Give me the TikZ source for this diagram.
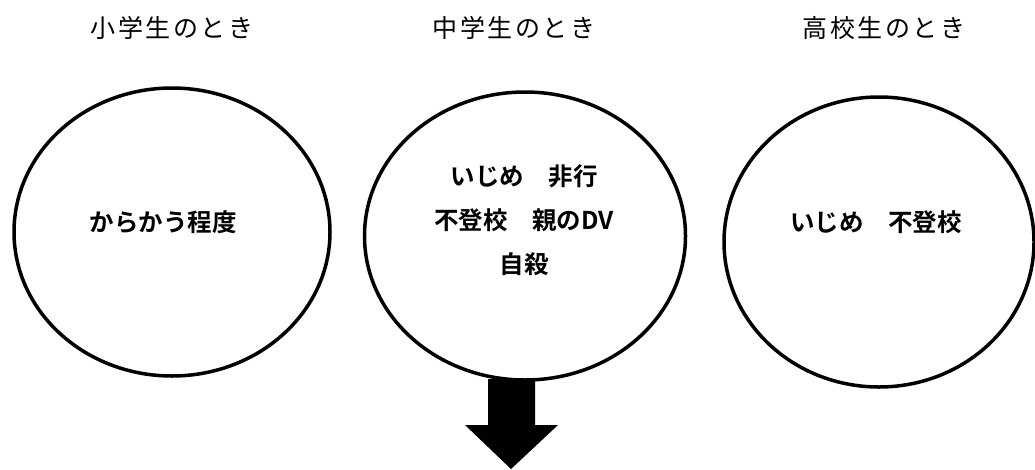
\documentclass[tikz,border=0pt]{standalone}
\usepackage{fontspec}
\usetikzlibrary{shapes.geometric}
\newfontfamily\jpreg{Noto Sans CJK JP}
\newfontfamily\jpbold{Noto Sans CJK JP Bold}
\tikzset{
  stage/.style={draw, ellipse, line width=3.5pt, inner sep=0pt},
  stagetitle/.style={font=\jpreg\fontsize{25}{30}\selectfont\addfontfeature{LetterSpace=10}, inner sep=0pt},
  body/.style={font=\jpbold\fontsize{24.5}{44}\selectfont, align=center, inner sep=0pt},
  blockarrow/.style={fill=black}
}
\begin{document}
\begin{tikzpicture}[x=1pt,y=-1pt]
\useasboundingbox[fill=white] (0,0) rectangle (1035,469);
% titles
\node[stagetitle] (t1) at (172,28) {小学生のとき};
\node[stagetitle] (t2) at (514,28) {中学生のとき};
\node[stagetitle] (t3) at (884,28) {高校生のとき};
% ellipses
\node[stage, minimum width=316pt, minimum height=288pt] (e1) at (172,232) {};
\node[stage, minimum width=321pt, minimum height=288pt] (e2) at (525,236) {};
\node[stage, minimum width=310pt, minimum height=290pt] (e3) at (879,242) {};
% contents
\node[body] (c1) at (163,222) {からかう程度};
\node[body] (c2) at (524,220) {いじめ　非行\\不登校　親のDV\\自殺};
\node[body] (c3) at (876,222) {いじめ　不登校};
% block arrow
\fill[blockarrow] (488,379) -- (535,379) -- (535,425) -- (558,425) -- (511,469) -- (465,425) -- (488,425) -- cycle;
\end{tikzpicture}
\end{document}
